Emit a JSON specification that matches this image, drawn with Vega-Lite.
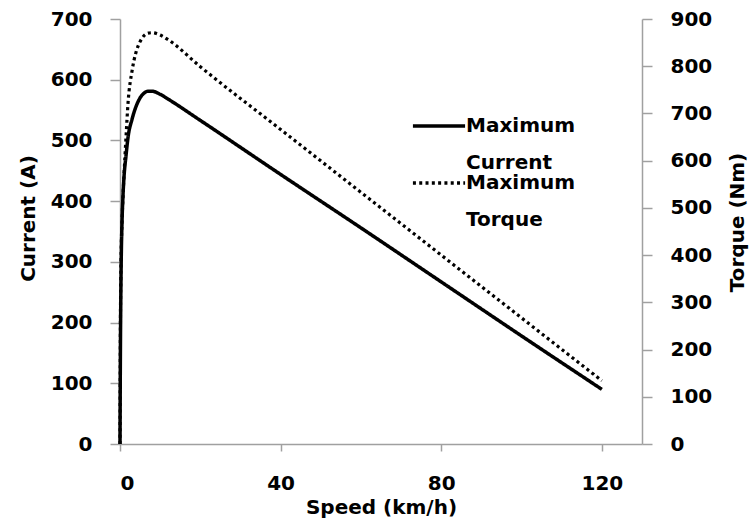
{
  "$schema": "https://vega.github.io/schema/vega-lite/v6.json",
  "autosize": "none",
  "padding": {"left": 120, "top": 19, "right": 113, "bottom": 80},
  "width": 522,
  "height": 425,
  "background": "white",
  "config": {
    "view": {"stroke": null},
    "font": "DejaVu Sans",
    "style": {"guide-label": {"lineHeight": 37}},
    "axis": {
      "grid": false,
      "domainColor": "#a0a0a0",
      "tickColor": "#a0a0a0",
      "domainWidth": 1.5,
      "tickWidth": 1.5,
      "labelFont": "DejaVu Sans",
      "labelFontWeight": "bold",
      "labelFontSize": 20,
      "labelColor": "black",
      "titleFont": "DejaVu Sans",
      "titleFontWeight": "bold",
      "titleFontSize": 20,
      "titleColor": "black"
    }
  },
  "data": {
    "values": [
      {"speed": 0, "current": 0, "torque": 0},
      {"speed": 0.1, "current": 150, "torque": 250},
      {"speed": 0.2, "current": 240, "torque": 350},
      {"speed": 0.3, "current": 300, "torque": 410},
      {"speed": 0.5, "current": 365, "torque": 470},
      {"speed": 0.75, "current": 410, "torque": 525},
      {"speed": 1, "current": 440, "torque": 570},
      {"speed": 1.5, "current": 475, "torque": 650},
      {"speed": 2, "current": 505, "torque": 722},
      {"speed": 3, "current": 535, "torque": 790},
      {"speed": 4, "current": 556, "torque": 830},
      {"speed": 5, "current": 570, "torque": 852},
      {"speed": 6, "current": 578, "torque": 865},
      {"speed": 7, "current": 581, "torque": 870},
      {"speed": 8, "current": 581, "torque": 871},
      {"speed": 10, "current": 576, "torque": 866},
      {"speed": 12, "current": 568, "torque": 856},
      {"speed": 20, "current": 533, "torque": 799},
      {"speed": 40, "current": 444, "torque": 666},
      {"speed": 60, "current": 356, "torque": 533},
      {"speed": 80, "current": 267, "torque": 400},
      {"speed": 100, "current": 178, "torque": 267},
      {"speed": 120, "current": 90, "torque": 134}
    ]
  },
  "encoding": {
    "x": {
      "field": "speed",
      "type": "quantitative",
      "scale": {"domain": [0, 130], "nice": false},
      "axis": {
        "values": [0, 40, 80, 120],
        "title": "Speed (km/h)",
        "tickSize": 7,
        "labelPadding": 22,
        "titlePadding": 4
      }
    }
  },
  "layer": [
    {
      "mark": {"type": "line", "interpolate": "monotone", "strokeWidth": 3.5, "color": "black"},
      "encoding": {
        "y": {
          "field": "current",
          "type": "quantitative",
          "scale": {"domain": [0, 700], "nice": false},
          "axis": {
            "values": [0, 100, 200, 300, 400, 500, 600, 700],
            "title": "Current (A)",
            "orient": "left",
            "tickSize": 10,
            "labelPadding": 18,
            "titlePadding": 12,
            "titleY": 199
          }
        },
        "strokeDash": {
          "datum": "Maximum Current",
          "type": "nominal",
          "scale": {"domain": ["Maximum Current", "Maximum Torque"], "range": [[1, 0], [3, 3.3]]},
          "legend": {
            "title": null,
            "orient": "none",
            "legendX": 309,
            "legendY": 97,
            "symbolType": "M-4,0H4",
            "symbolSize": 170,
            "symbolStrokeWidth": 3.5,
            "symbolStrokeColor": "black",
            "labelFont": "DejaVu Sans",
            "labelFontWeight": "bold",
            "labelFontSize": 20,
            "labelColor": "black",
            "labelLimit": 300,
            "labelOffset": 17,
            "labelExpr": "split(datum.label, ' ')",
            "labelBaseline": "middle",
            "rowPadding": 0
          }
        }
      }
    },
    {
      "mark": {"type": "line", "interpolate": "monotone", "strokeWidth": 3.2, "color": "black"},
      "encoding": {
        "y": {
          "field": "torque",
          "type": "quantitative",
          "scale": {"domain": [0, 900], "nice": false},
          "axis": {
            "values": [0, 100, 200, 300, 400, 500, 600, 700, 800, 900],
            "title": "Torque (Nm)",
            "orient": "right",
            "tickSize": 10,
            "labelPadding": 18,
            "titleAngle": 270,
            "titleBaseline": "middle",
            "titleX": 95,
            "titleY": 203
          }
        },
        "strokeDash": {"datum": "Maximum Torque", "type": "nominal"}
      }
    }
  ],
  "resolve": {"scale": {"y": "independent"}}
}
